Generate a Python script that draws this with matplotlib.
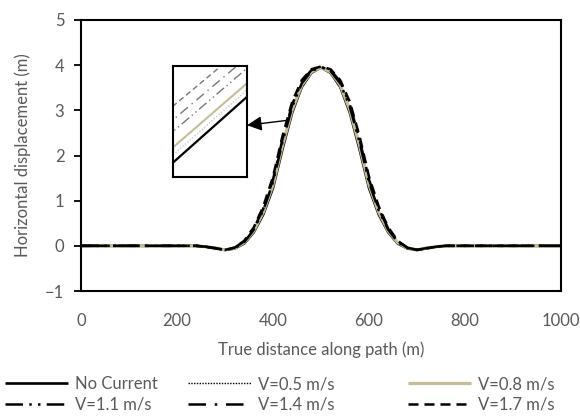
import matplotlib.pyplot as plt
import numpy as np

# ----------------------------------------------------------------------------------
# Data (horizontal displacement along the path)
# ----------------------------------------------------------------------------------
dist = [0, 200, 240, 260, 280, 300, 320, 340, 360, 380, 400, 420, 440, 460, 480, 500,
        520, 540, 560, 580, 600, 620, 640, 660, 680, 700, 720, 740, 760, 800, 1000]

no_current = [0, 0, 0, -0.02, -0.05, -0.09, -0.06, 0.05, 0.30, 0.70, 1.28, 2.15, 2.95, 3.52, 3.83, 3.95,
              3.83, 3.52, 2.95, 2.15, 1.28, 0.70, 0.30, 0.05, -0.06, -0.09, -0.05, -0.02, 0, 0, 0]
v05 = [0, 0, 0, -0.02, -0.05, -0.09, -0.06, 0.06, 0.31, 0.72, 1.31, 2.19, 2.98, 3.54, 3.84, 3.95,
       3.84, 3.54, 2.98, 2.19, 1.31, 0.72, 0.31, 0.06, -0.06, -0.09, -0.05, -0.02, 0, 0, 0]
v08 = [0, 0, 0, -0.02, -0.05, -0.09, -0.05, 0.07, 0.33, 0.75, 1.35, 2.23, 3.01, 3.56, 3.85, 3.95,
       3.85, 3.56, 3.01, 2.23, 1.35, 0.75, 0.33, 0.07, -0.05, -0.09, -0.05, -0.02, 0, 0, 0]
v11 = [0, 0, 0, -0.02, -0.05, -0.09, -0.05, 0.08, 0.36, 0.79, 1.41, 2.31, 3.08, 3.60, 3.87, 3.96,
       3.87, 3.60, 3.08, 2.31, 1.41, 0.79, 0.36, 0.08, -0.05, -0.09, -0.05, -0.02, 0, 0, 0]
v14 = [0, 0, 0, -0.02, -0.06, -0.09, -0.04, 0.10, 0.38, 0.83, 1.47, 2.37, 3.13, 3.64, 3.89, 3.96,
       3.89, 3.64, 3.13, 2.37, 1.47, 0.83, 0.38, 0.10, -0.04, -0.09, -0.06, -0.02, 0, 0, 0]
v17 = [0, 0, 0, -0.02, -0.06, -0.09, -0.04, 0.11, 0.41, 0.88, 1.53, 2.44, 3.19, 3.67, 3.91, 3.97,
       3.91, 3.67, 3.19, 2.44, 1.53, 0.88, 0.41, 0.11, -0.04, -0.09, -0.06, -0.02, 0, 0, 0]

labels = ['No Current', 'V=0.5 m/s', 'V=0.8 m/s', 'V=1.1 m/s', 'V=1.4 m/s', 'V=1.7 m/s']
series = [no_current, v05, v08, v11, v14, v17]

xticks = [0, 200, 400, 600, 800, 1000]
yticks = [-1, 0, 1, 2, 3, 4, 5]

# ----------------------------------------------------------------------------------
# Styles
# ----------------------------------------------------------------------------------
plt.rcParams['font.family'] = ['Lato', 'DejaVu Sans']
txt = '#595959'
beige = '#C4BD97'
styles = [
    dict(color='black', lw=1.9, ls='-'),
    dict(color='black', lw=1.0, ls=(0, (1, 1.0))),
    dict(color=beige, lw=2.3, ls='-'),
    dict(color='black', lw=1.8, ls=(0, (7, 2.5, 1, 2.5, 1, 2.5))),
    dict(color='black', lw=1.8, ls=(0, (7, 3.5, 1, 3.5))),
    dict(color='black', lw=1.8, ls=(0, (4, 2.4))),
]

fig = plt.figure(figsize=(5.8, 4.16), dpi=100)
ax = fig.add_axes([81 / 580, 1 - 291 / 416, 480 / 580, 271 / 416])

handles = []
for y, lab, st in zip(series, labels, styles):
    h, = ax.plot(dist, y, label=lab, solid_capstyle='butt', dash_capstyle='butt', **st)
    handles.append(h)

ax.set_xlim(0, 1000)
ax.set_ylim(-1, 5)
ax.set_xticks(xticks)
ax.set_yticks(yticks)
ax.tick_params(axis='x', length=0, pad=16, labelsize=12, labelcolor=txt)
ax.tick_params(axis='y', length=5, width=1.3, pad=7, labelsize=12, labelcolor=txt, direction='out')
for s in ax.spines.values():
    s.set_linewidth(1.5)
ax.set_xlabel('True distance along path (m)', fontsize=12, color=txt, labelpad=9)
ax.set_ylabel('Horizontal displacement (m)', fontsize=12, color=txt, labelpad=10)

# zoomed inset of the rising flank
axin = fig.add_axes([173 / 580, 1 - 177 / 416, 74 / 580, 111 / 416])
in_styles = [
    dict(color='black', lw=1.6, ls='-'),
    dict(color='#c8c8c8', lw=1.0, ls=(0, (1, 1.3))),
    dict(color=beige, lw=1.5, ls='-'),
    dict(color='#777777', lw=1.0, ls=(0, (7, 2.5, 1, 2.5, 1, 2.5))),
    dict(color='#777777', lw=1.0, ls=(0, (7, 3.5, 1, 3.5))),
    dict(color='#777777', lw=1.0, ls=(0, (4, 2.4))),
]
for y, st in zip(series, in_styles):
    axin.plot(dist, y, **st)
axin.set_xlim(426, 434)
axin.set_ylim(2.32, 2.86)
axin.set_xticks([])
axin.set_yticks([])
for s in axin.spines.values():
    s.set_linewidth(1.5)

ax.annotate('', xy=(346, 2.67), xytext=(431, 2.78),
            arrowprops=dict(arrowstyle='-|>', color='black', lw=1.0, mutation_scale=22,
                            shrinkA=0, shrinkB=0))

# legend in three columns of two
for i, x0 in enumerate([5 / 580, 188 / 580, 408 / 580]):
    fig.legend(handles=[handles[i], handles[i + 3]], labels=[labels[i], labels[i + 3]],
               loc='upper left', bbox_to_anchor=(x0, 1 - 376 / 416), frameon=False,
               fontsize=12, labelcolor=txt, handlelength=3.8, handletextpad=0.4,
               labelspacing=0.3, borderpad=0, borderaxespad=0)

fig.savefig('out.png', dpi=100)
